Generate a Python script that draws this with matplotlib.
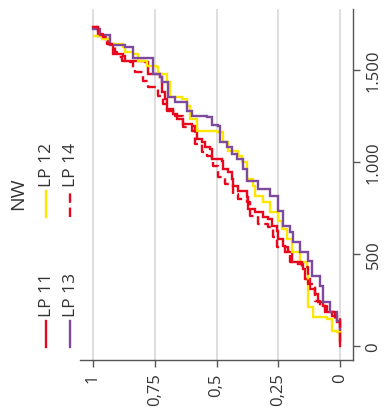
import matplotlib
matplotlib.use("Agg")
import matplotlib.pyplot as plt
from matplotlib.lines import Line2D

plt.rcParams["font.family"] = ["Open Sans", "DejaVu Sans"]

# cumulative share (1 -> 0) against NW
series_names = ["LP 11", "LP 12", "LP 13", "LP 14"]
series_colors = ["#E8081E", "#FFE600", "#7D4A9E", "#E8081E"]
series_styles = ["-", "-", "-", (0, (4, 2))]

lp11_share = [1.000, 0.980, 0.951, 0.939, 0.919, 0.919, 0.879, 0.870, 0.810, 0.789,
              0.777, 0.729, 0.721, 0.709, 0.700, 0.676, 0.660, 0.636, 0.599, 0.587,
              0.579, 0.559, 0.547, 0.526, 0.518, 0.478, 0.474, 0.453, 0.437, 0.433,
              0.413, 0.377, 0.372, 0.344, 0.312, 0.291, 0.275, 0.255, 0.251, 0.231,
              0.223, 0.194, 0.170, 0.150, 0.142, 0.121, 0.101, 0.089, 0.069, 0.061,
              0.032, 0.012, 0.000, 0.000]
lp11_nw = [1734, 1685, 1669, 1641, 1625, 1587, 1576, 1549, 1549, 1544,
           1478, 1462, 1380, 1342, 1288, 1261, 1234, 1207, 1196, 1179,
           1125, 1109, 1082, 1071, 1016, 1005, 962, 946, 908, 870,
           842, 810, 745, 728, 701, 690, 652, 625, 582, 543,
           511, 457, 446, 418, 364, 310, 283, 239, 217, 185,
           163, 130, 76, 0]

lp12_share = [0.996, 0.964, 0.939, 0.931, 0.879, 0.870, 0.838, 0.818, 0.781, 0.741,
              0.737, 0.700, 0.688, 0.640, 0.619, 0.607, 0.579, 0.498, 0.474, 0.453,
              0.413, 0.397, 0.377, 0.352, 0.344, 0.312, 0.283, 0.251, 0.235, 0.215,
              0.194, 0.162, 0.134, 0.130, 0.130, 0.109, 0.053, 0.032, 0.012, 0.000]
lp12_nw = [1685, 1669, 1669, 1641, 1625, 1598, 1587, 1549, 1522, 1516,
           1478, 1435, 1353, 1342, 1304, 1234, 1169, 1163, 1109, 1060,
           1033, 1000, 908, 870, 815, 783, 728, 679, 636, 582,
           511, 457, 429, 337, 212, 158, 147, 82, 76, 38]

lp13_share = [1.000, 0.972, 0.931, 0.931, 0.870, 0.838, 0.838, 0.757, 0.757, 0.729,
              0.721, 0.696, 0.696, 0.668, 0.636, 0.619, 0.599, 0.538, 0.518, 0.494,
              0.486, 0.457, 0.437, 0.417, 0.393, 0.377, 0.332, 0.283, 0.251, 0.231,
              0.202, 0.190, 0.162, 0.130, 0.113, 0.081, 0.069, 0.040, 0.012, 0.000]
lp13_nw = [1723, 1690, 1690, 1636, 1625, 1614, 1565, 1565, 1478, 1462,
           1435, 1424, 1353, 1326, 1326, 1277, 1250, 1245, 1201, 1196,
           1109, 1082, 1044, 1016, 962, 897, 853, 815, 734, 652,
           620, 565, 511, 462, 380, 326, 239, 185, 136, 92]

lp14_share = [1.000, 0.980, 0.960, 0.943, 0.923, 0.911, 0.903, 0.883, 0.850, 0.838,
              0.830, 0.798, 0.777, 0.737, 0.717, 0.700, 0.668, 0.636, 0.599, 0.587,
              0.559, 0.538, 0.518, 0.514, 0.494, 0.466, 0.433, 0.413, 0.377, 0.364,
              0.332, 0.291, 0.271, 0.255, 0.211, 0.202, 0.154, 0.130, 0.101, 0.081,
              0.053, 0.020, 0.000, 0.000]
lp14_nw = [1734, 1696, 1679, 1641, 1630, 1598, 1571, 1549, 1544, 1505,
           1489, 1440, 1408, 1359, 1315, 1277, 1250, 1190, 1168, 1098,
           1054, 1033, 1016, 978, 918, 880, 826, 799, 783, 707,
           663, 647, 592, 538, 516, 457, 429, 337, 245, 217,
           185, 147, 76, 0]

share_ticks = [1, 0.75, 0.5, 0.25, 0]
share_labels = ["1", "0,75", "0,5", "0,25", "0"]
nw_ticks = [0, 500, 1000, 1500]
nw_labels = ["0", "500", "1.000", "1.500"]
legend_title = "NW"

all_share = [lp11_share, lp12_share, lp13_share, lp14_share]
all_nw = [lp11_nw, lp12_nw, lp13_nw, lp14_nw]

W, H = 389, 410
fig = plt.figure(figsize=(W / 100, H / 100), dpi=100)
ax = fig.add_axes([80 / W, (H - 361) / H, (353 - 80) / W, (361 - 10) / H])

for v in share_ticks:
    ax.axvline(v, color="#d4d4d4", lw=1.1, zorder=0)

for sh, nw, col, ls in zip(all_share, all_nw, series_colors, series_styles):
    ax.plot(sh, nw, drawstyle="steps-post", color=col, lw=1.7, ls=ls,
            solid_joinstyle="miter")

ax.set_xlim(1.052, -0.052)
ax.set_ylim(-76, 1832)

ax.yaxis.tick_right()
ax.set_xticks(share_ticks)
ax.set_xticklabels(share_labels, rotation=90)
ax.set_yticks(nw_ticks)
ax.set_yticklabels(nw_labels, rotation=90, va="center")

for s in ["left", "top"]:
    ax.spines[s].set_visible(False)
for s in ["bottom", "right"]:
    ax.spines[s].set_color("#555555")
    ax.spines[s].set_linewidth(1.0)
ax.tick_params(axis="both", colors="#555555", labelcolor="#333333",
               length=5, width=1.0, labelsize=12, pad=4)

# legend, turned like the rest of the chart
def fx(px):
    return px / W

def fy(py):
    return (H - py) / H

fig.text(fx(18), fy(194), legend_title, rotation=90, ha="center", va="center",
         fontsize=14, color="#333333")
legend_pos = [(46, 348), (46, 218), (70, 348), (70, 218)]
for (lx, ly), name, col, ls in zip(legend_pos, series_names, series_colors, series_styles):
    fig.add_artist(Line2D([fx(lx), fx(lx)], [fy(ly), fy(ly - 26)],
                          transform=fig.transFigure, color=col, lw=1.7, ls=ls))
    fig.text(fx(lx + 1), fy(ly - 31), name, rotation=90, ha="center", va="bottom",
             fontsize=12.5, color="#333333")

fig.savefig("out.png", dpi=100)
